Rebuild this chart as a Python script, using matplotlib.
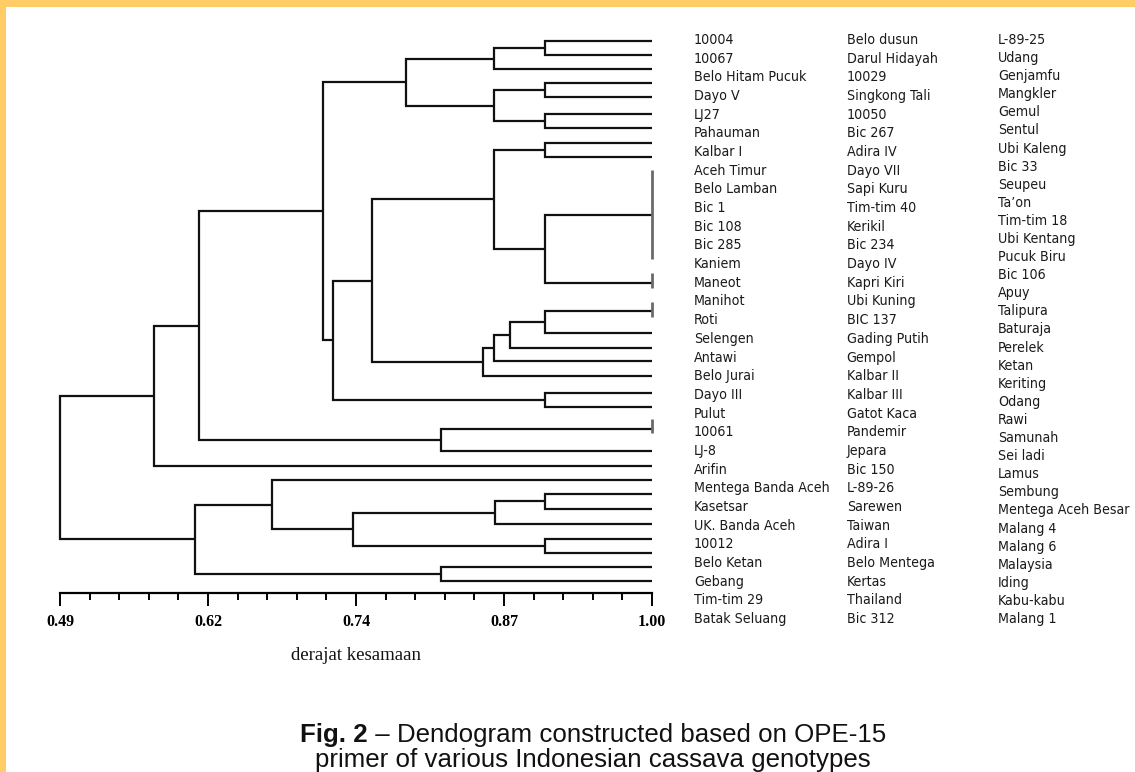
import numpy as np
import matplotlib
matplotlib.use("Agg")
import matplotlib.pyplot as plt
from matplotlib.patches import Rectangle
from matplotlib.ticker import FixedLocator, FixedFormatter
from matplotlib import font_manager as fm

# ---------------- data ----------------
col1_labels = ["10004", "10067", "Belo Hitam Pucuk", "Dayo V", "LJ27", "Pahauman", "Kalbar I",
               "Aceh Timur", "Belo Lamban", "Bic 1", "Bic 108", "Bic 285", "Kaniem", "Maneot",
               "Manihot", "Roti", "Selengen", "Antawi", "Belo Jurai", "Dayo III", "Pulut", "10061",
               "LJ-8", "Arifin", "Mentega Banda Aceh", "Kasetsar", "UK. Banda Aceh", "10012",
               "Belo Ketan", "Gebang", "Tim-tim 29", "Batak Seluang"]
col2_labels = ["Belo dusun", "Darul Hidayah", "10029", "Singkong Tali", "10050", "Bic 267",
               "Adira IV", "Dayo VII", "Sapi Kuru", "Tim-tim 40", "Kerikil", "Bic 234", "Dayo IV",
               "Kapri Kiri", "Ubi Kuning", "BIC 137", "Gading Putih", "Gempol", "Kalbar II",
               "Kalbar III", "Gatot Kaca", "Pandemir", "Jepara", "Bic 150", "L-89-26", "Sarewen",
               "Taiwan", "Adira I", "Belo Mentega", "Kertas", "Thailand", "Bic 312"]
col3_labels = ["L-89-25", "Udang", "Genjamfu", "Mangkler", "Gemul", "Sentul", "Ubi Kaleng",
               "Bic 33", "Seupeu", "Ta\u2019on", "Tim-tim 18", "Ubi Kentang", "Pucuk Biru", "Bic 106",
               "Apuy", "Talipura", "Baturaja", "Perelek", "Ketan", "Keriting", "Odang", "Rawi",
               "Samunah", "Sei ladi", "Lamus", "Sembung", "Mentega Aceh Besar", "Malang 4",
               "Malang 6", "Malaysia", "Iding", "Kabu-kabu", "Malang 1"]

# dendrogram terminal rows (top to bottom)
leaf_rows = [0.00, 0.99, 2.03, 3.02, 4.01, 5.20, 6.19, 7.23, 8.23, 12.36, 17.16, 19.17,
             20.71, 21.77, 22.74, 23.78, 24.96, 25.96, 27.55, 29.10, 30.14, 31.16, 32.15,
             33.19, 34.30, 35.32, 36.31, 37.35, 38.32]
# terminals made of identical members (similarity 1.00): bar extent in rows
tie_leaf = [9, 10, 11, 18]
tie_top = [9.17, 16.48, 18.53, 26.84]
tie_bottom = [15.48, 17.55, 19.60, 27.84]

# merges: (child a, child b, similarity); new node ids start after terminals
merge_a = [0, 29, 3, 5, 31, 30, 7, 9, 35, 11, 38, 39, 40, 37, 16, 42, 34, 18, 45, 47,
           22, 49, 25, 50, 21, 27, 53, 48]
merge_b = [1, 2, 4, 6, 32, 33, 8, 10, 36, 12, 13, 14, 15, 41, 17, 43, 44, 19, 46, 20,
           23, 24, 26, 51, 52, 28, 54, 55]
merge_sim = [0.908, 0.864, 0.908, 0.908, 0.864, 0.788, 0.908, 0.908, 0.864, 0.908, 0.878,
             0.864, 0.854, 0.759, 0.908, 0.725, 0.717, 0.818, 0.610, 0.571, 0.908, 0.865,
             0.908, 0.742, 0.673, 0.818, 0.606, 0.490]

sim_min, sim_max = 0.49, 1.00
tick_labels = ["0.49", "0.62", "0.74", "0.87", "1.00"]
x_title = "derajat kesamaan"
caption_bold = "Fig. 2"
caption_rest = " \u2013 Dendogram constructed based on OPE-15"
caption_line2 = "primer of various Indonesian cassava genotypes"

# ---------------- fonts ----------------
entries = fm.fontManager.ttflist
has_dv_cond = any(f.name == "DejaVu Sans" and "condensed" in str(f.stretch) for f in entries)
if has_dv_cond:
    label_font = dict(family="DejaVu Sans", fontstretch="condensed", fontsize=10.2)
else:
    label_font = dict(family="DejaVu Sans", fontsize=9.4)

# ---------------- figure ----------------
W, H = 1135, 772
fig = plt.figure(figsize=(W / 100, H / 100), dpi=100)
fig.patch.set_facecolor("white")
border = "#FFCC66"
fig.add_artist(Rectangle((0, 1 - 7 / H), 1, 7 / H, transform=fig.transFigure,
                         color=border, lw=0, zorder=10))
fig.add_artist(Rectangle((0, 0), 6 / W, 1, transform=fig.transFigure,
                         color=border, lw=0, zorder=10))

# dendrogram axes: x 60..652 px, y 30..592.7 px
ax = fig.add_axes([60 / W, 1 - 592.7 / H, 592 / W, (592.7 - 30) / H])
ax.set_xlim(sim_min, sim_max)
ax.set_ylim(39.15, -0.76)
ax.set_facecolor("none")

node_y = list(leaf_rows)
node_x = [sim_max] * len(leaf_rows)
lw = 1.6
for a, b, s in zip(merge_a, merge_b, merge_sim):
    ya, yb = node_y[a], node_y[b]
    ax.plot([node_x[a], s, s, node_x[b]], [ya, ya, yb, yb], color="#111111", lw=lw,
            solid_joinstyle="miter", solid_capstyle="butt", clip_on=False)
    node_y.append((ya + yb) / 2)
    node_x.append(s)

for i, t, b in zip(tie_leaf, tie_top, tie_bottom):
    ax.plot([sim_max, sim_max], [t, b], color="#6a6a6a", lw=2.0, clip_on=False,
            solid_capstyle="butt")

for sp in ["left", "right", "top"]:
    ax.spines[sp].set_visible(False)
ax.spines["bottom"].set_linewidth(1.6)
ax.set_yticks([])
ax.xaxis.set_major_locator(FixedLocator(np.linspace(sim_min, sim_max, len(tick_labels))))
ax.xaxis.set_major_formatter(FixedFormatter(tick_labels))
ax.xaxis.set_minor_locator(FixedLocator(np.linspace(sim_min, sim_max, 21)))
ax.tick_params(axis="x", which="major", length=9.6, width=1.4, direction="out", pad=6,
               color="black")
ax.tick_params(axis="x", which="minor", length=5.3, width=1.4, direction="out",
               color="black")
for lab in ax.get_xticklabels():
    lab.set_fontfamily("Liberation Serif")
    lab.set_fontweight("bold")
    lab.set_fontsize(11.5)
ax.set_xlabel(x_title, fontfamily="Liberation Serif", fontsize=13.5, color="#111111")
ax.xaxis.label.set_va("center")
ax.xaxis.set_label_coords(0.5, -62.3 / (592.7 - 30))

# label columns axes: y 40..619 px
axl = fig.add_axes([680 / W, 1 - 619 / H, (W - 680) / W, (619 - 40) / H])
axl.set_xlim(0, W - 680)
axl.set_ylim(1, 0)
axl.axis("off")
col_x = [14, 166.7, 318]
for cx, labels in zip(col_x, [col1_labels, col2_labels, col3_labels]):
    for yy, txt in zip(np.linspace(0, 1, len(labels)), labels):
        axl.text(cx, yy, txt, ha="left", va="center", color="#1a1a1a", clip_on=False,
                 **label_font)

# caption
r = fig.canvas.get_renderer()
cap_kw = dict(family="Liberation Sans", fontsize=18.6, va="baseline", color="#111111")
y1 = 1 - 742 / H
y2 = 1 - 767 / H
t1 = fig.text(0, y1, caption_bold, fontweight="bold", **cap_kw)
t2 = fig.text(0, y1, caption_rest, **cap_kw)
w1 = t1.get_window_extent(r).width
w2 = t2.get_window_extent(r).width
x0 = 593 - (w1 + w2) / 2
t1.set_x(x0 / W)
t2.set_x((x0 + w1) / W)
fig.text(592.5 / W, y2, caption_line2, ha="center", **cap_kw)

fig.savefig("out.png", dpi=100)
